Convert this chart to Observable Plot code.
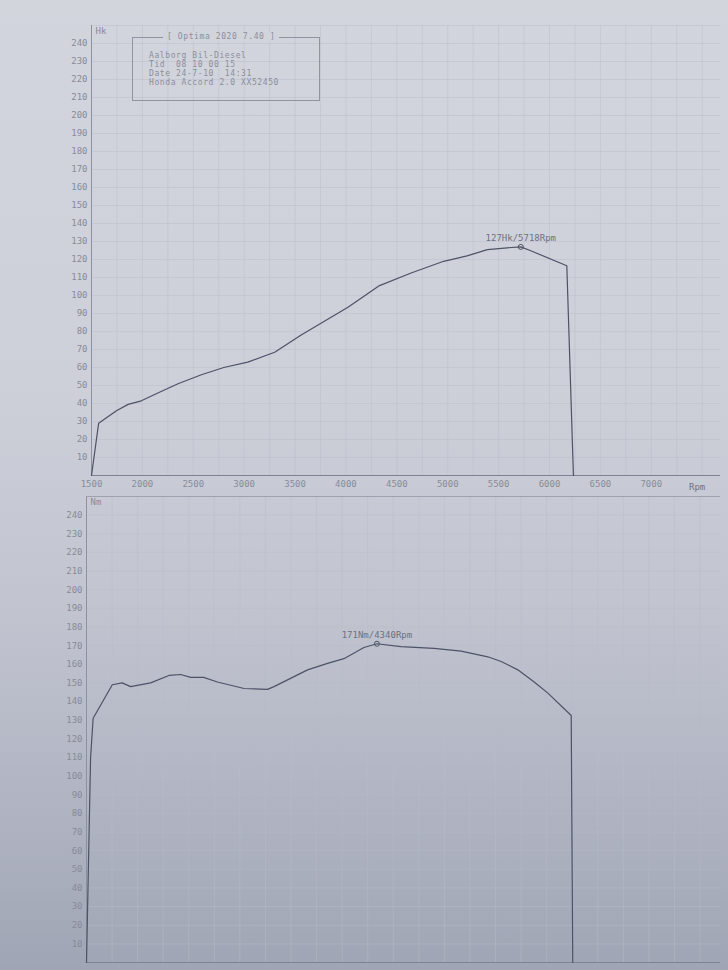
<!DOCTYPE html>
<html>
<head>
<meta charset="utf-8">
<script src="https://cdn.jsdelivr.net/npm/d3@7"></script>
<script src="https://cdn.jsdelivr.net/npm/@observablehq/plot@0.6"></script>
<style>
  html, body { margin: 0; padding: 0; }
  body {
    width: 728px; height: 970px; position: relative; overflow: hidden;
    background: linear-gradient(to bottom, #d3d5dd 0%, #cdd0d9 40%, #c2c5d0 62%, #b1b5c3 82%, #a0a5b5 100%);
    font-family: "DejaVu Sans Mono", "Liberation Mono", monospace;
  }
  #top, #bottom { position: absolute; left: 0; }
  #top { top: 0; }
  #bottom { top: 490px; }
  #info {
    position: absolute; left: 132px; top: 37px; width: 188px; height: 64px;
    border: 1px solid #8f93a2; box-sizing: border-box;
    font-size: 8px; color: #8a8e9c; line-height: 9px; letter-spacing: 0.6px;
  }
  #info .hdr {
    position: absolute; top: -6px; left: 30px; background: #d2d4dc; padding: 0 4px;
  }
  #info .lines { position: absolute; left: 16px; top: 13px; white-space: pre; }
</style>
</head>
<body>
<div id="top"></div>
<div id="bottom"></div>
<div id="info"><div class="hdr">[ Optima 2020 7.40 ]</div><div class="lines">Aalborg Bil-Diesel
Tid  08 10 00 15
Date 24-7-10  14:31
Honda Accord 2.0 XX52450</div></div>
<script>
// ---- data ----
const rpmTicks = [1500, 2000, 2500, 3000, 3500, 4000, 4500, 5000, 5500, 6000, 6500, 7000];
const valueTicks = [10,20,30,40,50,60,70,80,90,100,110,120,130,140,150,160,170,180,190,200,210,220,230,240];

const powerRpm = [1500, 1570, 1745, 1860, 1990, 2120, 2350, 2580, 2800, 3035, 3300, 3560, 4020, 4330, 4640, 4960, 5190, 5390, 5585, 5718, 5810, 6170, 6235];
const powerHk  = [0,    29,   36,   39.5, 41.5, 45,   51,   56,   60,   63,   68.5, 78,   93.5, 105.5, 112.5, 119, 122,  125.5, 126.5, 127, 125,  116.5, 0];

const torqueRpm = [1500, 1540, 1565, 1752, 1850, 1931, 2127, 2306, 2421, 2519, 2646, 2780, 3041, 3270, 3334, 3662, 3857, 4017, 4213, 4340, 4575, 4899, 5164, 5425, 5555, 5718, 5878, 6012, 6240, 6255];
const torqueNm  = [0,    110,  131,  149,  150,  148,  150,  154,  154.5, 153, 153,  150.5, 147,  146.5, 148,  157,  160.5, 163,  169,  171,  169.5, 168.5, 167,  164,  161.5, 157,  150.5, 144.5, 132.5, 0];

const powerPeak = {rpm: 5718, value: 127, label: "127Hk/5718Rpm"};
const torquePeak = {rpm: 4340, value: 171, label: "171Nm/4340Rpm"};
const powerUnit = "Hk";
const torqueUnit = "Nm";
const rpmUnit = "Rpm";

// ---- styles ----
const ink = "#4d5266";
const grid = "#b9bcc8";
const label = "#878b99";
const font = "DejaVu Sans Mono, Liberation Mono, monospace";

const powerData = powerRpm.map((r, i) => ({rpm: r, v: powerHk[i]}));
const torqueData = torqueRpm.map((r, i) => ({rpm: r, v: torqueNm[i]}));

function chart({data, peak, unit, height, marginTop, marginBottom, marginLeft, xDomain, showX, topRule}) {
  const marks = [
    Plot.gridX(d3.range(1500, 7701, 250), {stroke: grid, strokeOpacity: 0.45}),
    Plot.gridY(d3.range(0, 251, 10), {stroke: grid, strokeOpacity: 0.45}),
    Plot.axisY(valueTicks, {tickSize: 0, tickPadding: 4, fontSize: 9, fill: label, fontFamily: font, label: null, tickFormat: d => String(d)}),
    Plot.ruleY([0], {stroke: "#7e8294", strokeWidth: 1.2}),
    Plot.ruleX([1500], {stroke: "#8d91a0", strokeWidth: 1}),
    Plot.line(data, {x: "rpm", y: "v", stroke: ink, strokeWidth: 1.2}),
    Plot.dot([peak], {x: "rpm", y: "value", r: 2.5, stroke: ink, fill: "none", strokeWidth: 1}),
    Plot.text([peak], {x: "rpm", y: "value", text: "label", dy: -9, fontSize: 9, fill: "#6d7182", fontFamily: font}),
    Plot.text([unit], {frameAnchor: "top-left", dx: 4, dy: 2, fontSize: 9, fill: label, fontFamily: font, text: d => d})
  ];
  if (topRule) marks.push(Plot.ruleY([250], {stroke: "#9ea2b0", strokeWidth: 1}));
  if (showX) {
    marks.push(Plot.axisX(rpmTicks, {tickSize: 0, tickPadding: 5, fontSize: 9, fill: label, fontFamily: font, label: null, tickFormat: d => String(d)}));
    marks.push(Plot.text([rpmUnit], {x: 7450, y: 0, dy: 12, fontSize: 9, fill: "#6d7182", fontFamily: font, text: d => d}));
  }
  return Plot.plot({
    width: 728, height, marginTop, marginBottom, marginLeft, marginRight: 8,
    style: {background: "transparent", overflow: "visible"},
    x: {domain: xDomain, axis: null},
    y: {domain: [0, 250], axis: null},
    marks
  });
}

document.getElementById("top").append(chart({
  data: powerData, peak: powerPeak, unit: powerUnit,
  height: 500, marginTop: 25, marginBottom: 25, marginLeft: 91,
  xDomain: [1500, 7680], showX: true, topRule: false
}));
document.getElementById("bottom").append(chart({
  data: torqueData, peak: torquePeak, unit: torqueUnit,
  height: 480, marginTop: 6, marginBottom: 8, marginLeft: 86,
  xDomain: [1500, 7700], showX: false, topRule: true
}));
</script>
</body>
</html>
